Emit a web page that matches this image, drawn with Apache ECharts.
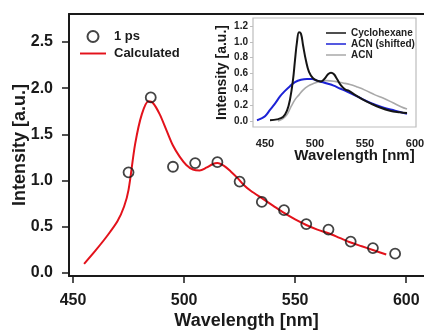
<!DOCTYPE html>
<html>
<head>
<meta charset="utf-8">
<script src="https://cdn.jsdelivr.net/npm/echarts@6/dist/echarts.min.js"></script>
<style>
  html, body { margin: 0; padding: 0; background: #fff; }
  #chart { width: 424px; height: 331px; }
</style>
</head>
<body>
<div id="chart"></div>
<script>
// Main panel: 1 ps measured points and calculated spectrum
const measuredWl = [475, 485, 495, 505, 515, 525, 535, 545, 555, 565, 575, 585, 595];
const measuredI = [1.09, 1.90, 1.15, 1.19, 1.20, 0.99, 0.77, 0.68, 0.53, 0.47, 0.34, 0.27, 0.21];

const calcWl = [455, 460, 465, 470, 473, 475, 478, 481, 484, 486, 489, 492, 495, 498, 501, 504, 507, 510, 513, 515, 518, 521, 524, 527, 530, 535, 540, 545, 550, 555, 560, 565, 570, 575, 580, 585, 591];
const calcI = [0.10, 0.24, 0.39, 0.56, 0.72, 0.90, 1.40, 1.72, 1.86, 1.84, 1.72, 1.55, 1.38, 1.26, 1.17, 1.12, 1.11, 1.14, 1.18, 1.19, 1.16, 1.10, 1.03, 0.95, 0.89, 0.81, 0.73, 0.65, 0.58, 0.52, 0.47, 0.43, 0.38, 0.33, 0.29, 0.25, 0.20];

// Inset: steady-state emission in two solvents
const cycloWl = [455, 462, 468, 472, 475, 478, 480, 482, 484, 486, 488, 491, 494, 498, 502, 506, 510, 513, 516, 519, 522, 526, 530, 534, 540, 548, 556, 565, 575, 585, 592];
const cycloI = [0.01, 0.02, 0.05, 0.13, 0.27, 0.52, 0.77, 1.00, 1.12, 1.10, 0.96, 0.76, 0.62, 0.54, 0.51, 0.50, 0.54, 0.59, 0.61, 0.59, 0.53, 0.45, 0.40, 0.38, 0.33, 0.27, 0.22, 0.17, 0.13, 0.11, 0.10];

const acnShiftWl = [442, 446, 450, 455, 460, 465, 470, 475, 480, 486, 492, 497, 502, 508, 513, 518, 525, 532, 542, 555, 568, 580, 592];
const acnShiftI = [0.01, 0.03, 0.06, 0.14, 0.22, 0.31, 0.38, 0.44, 0.49, 0.52, 0.53, 0.53, 0.51, 0.49, 0.47, 0.45, 0.41, 0.37, 0.31, 0.23, 0.17, 0.13, 0.09];

const acnWl = [463, 468, 472, 476, 480, 484, 488, 493, 498, 505, 512, 520, 528, 535, 542, 550, 560, 568, 578, 586, 592];
const acnI = [0.00, 0.03, 0.08, 0.18, 0.27, 0.33, 0.39, 0.44, 0.47, 0.50, 0.51, 0.50, 0.48, 0.46, 0.43, 0.39, 0.33, 0.29, 0.23, 0.18, 0.15];

const mainXTicks = [450, 500, 550, 600];
const mainYTicks = [0, 0.5, 1.0, 1.5, 2.0, 2.5];
const insetXTicks = [450, 500, 550, 600];
const insetYTicks = [0, 0.2, 0.4, 0.6, 0.8, 1.0, 1.2];

const zip = (xs, ys) => xs.map((x, i) => [x, ys[i]]);
const FONT = 'Liberation Sans';
// plain horizontal stroke used as the legend key for line series
const LINE_ICON = 'path://M0,0H40V3H0Z';

const chart = echarts.init(document.getElementById('chart'), null, { renderer: 'canvas' });

chart.setOption({
  animation: false,
  backgroundColor: '#fff',
  textStyle: { fontFamily: FONT },
  grid: [
    { left: 69, top: 14, right: 0, bottom: 55, outerBoundsMode: 'none' },
    { left: 253, top: 18, right: 8, bottom: 204, outerBoundsMode: 'none',
      show: true, borderColor: '#bdbdbd', borderWidth: 1.2, backgroundColor: '#fff', z: 5 }
  ],
  legend: [
    {
      orient: 'vertical', left: 75, top: 25, itemWidth: 26, itemHeight: 11, itemGap: 4,
      textStyle: { fontFamily: FONT, fontWeight: 'bold', fontSize: 13, color: '#1a1a1a', padding: [0, 0, 0, 3] },
      data: [{ name: '1 ps', icon: 'circle' }, { name: 'Calculated', icon: LINE_ICON }]
    },
    {
      orient: 'vertical', left: 321, top: 23, itemWidth: 20, itemHeight: 8, itemGap: 1,
      textStyle: { fontFamily: FONT, fontWeight: 'bold', fontSize: 10, color: '#222', padding: 0 },
      data: [
        { name: 'Cyclohexane', icon: LINE_ICON },
        { name: 'ACN (shifted)', icon: LINE_ICON },
        { name: 'ACN', icon: LINE_ICON }
      ],
      z: 10
    }
  ],
  xAxis: [
    {
      gridIndex: 0, type: 'value', min: 448.2, max: 608,
      name: 'Wavelength [nm]', nameLocation: 'middle', nameGap: 36, nameMoveOverlap: false,
      nameTextStyle: { fontFamily: FONT, fontWeight: 'bold', fontSize: 18, color: '#1a1a1a' },
      axisLine: { show: true, onZero: false, lineStyle: { color: '#1a1a1a', width: 2 } },
      axisTick: { show: true, customValues: mainXTicks, length: 7, lineStyle: { color: '#1a1a1a', width: 1.5 } },
      axisLabel: { customValues: mainXTicks, margin: 17, fontFamily: FONT, fontWeight: 'bold', fontSize: 16, color: '#1a1a1a' },
      splitLine: { show: false }
    },
    {
      gridIndex: 0, type: 'value', position: 'top', min: 448.2, max: 608,
      axisLine: { show: true, onZero: false, lineStyle: { color: '#1a1a1a', width: 2 } },
      axisTick: { show: false }, axisLabel: { show: false }, splitLine: { show: false }
    },
    {
      gridIndex: 1, type: 'value', min: 438, max: 601,
      name: 'Wavelength [nm]', nameLocation: 'middle', nameGap: 21, nameMoveOverlap: false,
      nameTextStyle: { fontFamily: FONT, fontWeight: 'bold', fontSize: 15, color: '#1a1a1a', padding: [0, 0, 0, 40] },
      axisLine: { show: false },
      axisTick: { show: true, customValues: insetXTicks, length: 3, lineStyle: { color: '#bdbdbd', width: 1 } },
      axisLabel: { customValues: insetXTicks, margin: 11, fontFamily: FONT, fontWeight: 'bold', fontSize: 11, color: '#222' },
      splitLine: { show: false }
    }
  ],
  yAxis: [
    {
      gridIndex: 0, type: 'value', min: -0.032, max: 2.803,
      name: 'Intensity [a.u.]', nameLocation: 'middle', nameGap: 40, nameMoveOverlap: false,
      nameTextStyle: { fontFamily: FONT, fontWeight: 'bold', fontSize: 18, color: '#1a1a1a' },
      axisLine: { show: true, onZero: false, lineStyle: { color: '#1a1a1a', width: 2 } },
      axisTick: { show: true, customValues: mainYTicks, length: 7, lineStyle: { color: '#1a1a1a', width: 1.5 } },
      axisLabel: { customValues: mainYTicks, margin: 16, fontFamily: FONT, fontWeight: 'bold', fontSize: 16, color: '#1a1a1a',
        formatter: v => v.toFixed(1) },
      splitLine: { show: false }
    },
    {
      gridIndex: 1, type: 'value', min: -0.076, max: 1.301,
      name: 'Intensity [a.u.]', nameLocation: 'middle', nameGap: 24, nameMoveOverlap: false,
      nameTextStyle: { fontFamily: FONT, fontWeight: 'bold', fontSize: 14, color: '#1a1a1a' },
      axisLine: { show: false },
      axisTick: { show: true, customValues: insetYTicks, length: 3, lineStyle: { color: '#bdbdbd', width: 1 } },
      axisLabel: { customValues: insetYTicks, margin: 5, fontFamily: FONT, fontWeight: 'bold', fontSize: 10, color: '#222',
        formatter: v => v.toFixed(1) },
      splitLine: { show: false }
    }
  ],
  series: [
    {
      name: 'Calculated', type: 'line', xAxisIndex: 0, yAxisIndex: 0,
      data: zip(calcWl, calcI), smooth: 0.3, symbol: 'none',
      lineStyle: { color: '#e3121b', width: 2 }, itemStyle: { color: '#e3121b' }, z: 2
    },
    {
      name: '1 ps', type: 'scatter', xAxisIndex: 0, yAxisIndex: 0,
      data: zip(measuredWl, measuredI), symbol: 'circle', symbolSize: 10,
      itemStyle: { color: 'rgba(255,255,255,0)', borderColor: '#151515', borderWidth: 1.8 }, z: 3
    },
    {
      name: 'ACN', type: 'line', xAxisIndex: 2, yAxisIndex: 1,
      data: zip(acnWl, acnI), smooth: 0.4, symbol: 'none',
      lineStyle: { color: '#a9a9a9', width: 1.6 }, itemStyle: { color: '#a9a9a9' }, z: 6
    },
    {
      name: 'ACN (shifted)', type: 'line', xAxisIndex: 2, yAxisIndex: 1,
      data: zip(acnShiftWl, acnShiftI), smooth: 0.4, symbol: 'none',
      lineStyle: { color: '#1c22d6', width: 2 }, itemStyle: { color: '#1c22d6' }, z: 7
    },
    {
      name: 'Cyclohexane', type: 'line', xAxisIndex: 2, yAxisIndex: 1,
      data: zip(cycloWl, cycloI), smooth: 0.4, symbol: 'none',
      lineStyle: { color: '#151515', width: 2 }, itemStyle: { color: '#151515' }, z: 8
    }
  ]
});
</script>
</body>
</html>
